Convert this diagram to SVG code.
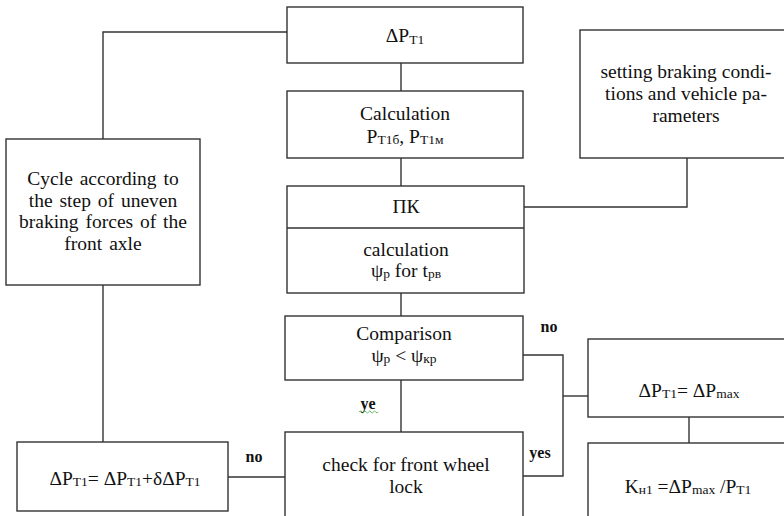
<svg xmlns="http://www.w3.org/2000/svg" width="784" height="516" viewBox="0 0 784 516">
<style>
.box{fill:#fff;stroke:#333;stroke-width:1.4}
.ln{fill:none;stroke:#333;stroke-width:1.4}
text{font-size:19.5px;fill:#111;text-anchor:middle}
.s{font-size:13.5px}
.b{font-weight:bold;font-size:16px}
.w{word-spacing:2px}
</style>
<rect width="784" height="516" fill="#fff"/>
<g id="connectors">
<path class="ln" d="M401 63V91"/>
<path class="ln" d="M401 158V186"/>
<path class="ln" d="M401 293V316"/>
<path class="ln" d="M401 380V432"/>
<path class="ln" d="M687 158V207H524"/>
<path class="ln" d="M287 32H103V139"/>
<path class="ln" d="M103 285V442"/>
<path class="ln" d="M228 477H285"/>
<path class="ln" d="M523 355H563V476H523"/>
<path class="ln" d="M563 396H588"/>
<path class="ln" d="M689 417V443"/>
</g>
<g font-family="Liberation Serif, Times New Roman, DejaVu Serif, serif">
<g id="n-dpt1">
<rect class="box" x="287" y="7" width="236" height="56"/>
<text x="405" y="42">ΔP<tspan class="s" dy="2">T1</tspan></text>
</g>
<g id="n-calc">
<rect class="box" x="287" y="91" width="236" height="67"/>
<text x="405" y="120">Calculation</text>
<text x="405" y="143">P<tspan class="s" dy="1">T1б</tspan><tspan dy="-1">, P</tspan><tspan class="s" dy="1">T1м</tspan></text>
</g>
<g id="n-pk">
<rect class="box" x="287" y="186" width="237" height="107"/>
<path class="ln" d="M287 228H524"/>
<text x="406" y="213">ПК</text>
<text x="406" y="256">calculation</text>
<text x="406" y="277">ψ<tspan class="s" dy="1">р</tspan><tspan dy="-1"> for  t</tspan><tspan class="s" dy="1">рв</tspan></text>
</g>
<g id="n-setting">
<rect class="box" x="580" y="30" width="220" height="128"/>
<text x="686" y="78">setting braking condi-</text>
<text x="686" y="100">tions and vehicle pa-</text>
<text x="686" y="122">rameters</text>
</g>
<g id="n-cycle">
<rect class="box" x="6" y="139" width="194" height="146"/>
<text class="w" x="103" y="185">Cycle according to</text>
<text class="w" x="103" y="207">the step of uneven</text>
<text class="w" x="103" y="228">braking forces of the</text>
<text class="w" x="103" y="250">front axle</text>
</g>
<g id="n-comp">
<rect class="box" x="285" y="316" width="238" height="64"/>
<text x="404" y="340">Comparison</text>
<text x="404" y="362">ψ<tspan class="s" dy="1">р</tspan><tspan dy="-1"> &lt; ψ</tspan><tspan class="s" dy="1">кр</tspan></text>
</g>
<g id="n-check">
<rect class="box" x="285" y="432" width="238" height="100"/>
<text x="406" y="471">check for front wheel</text>
<text x="406" y="493">lock</text>
</g>
<g id="n-inc">
<rect class="box" x="17" y="442" width="211" height="69"/>
<text x="125" y="485">ΔP<tspan class="s" dy="1">T1</tspan><tspan dy="-1">= ΔP</tspan><tspan class="s" dy="1">T1</tspan><tspan dy="-1">+δΔP</tspan><tspan class="s" dy="1">T1</tspan></text>
</g>
<g id="n-max">
<rect class="box" x="588" y="339" width="210" height="78"/>
<text x="689" y="397">ΔP<tspan class="s" dy="1">T1</tspan><tspan dy="-1">= ΔP</tspan><tspan class="s" dy="1">max</tspan></text>
</g>
<g id="n-k">
<rect class="box" x="588" y="443" width="210" height="90"/>
<text x="688" y="493">K<tspan class="s" dy="1">н1</tspan><tspan dy="-1"> =ΔP</tspan><tspan class="s" dy="1">max</tspan><tspan dy="-1"> /P</tspan><tspan class="s" dy="1">T1</tspan></text>
</g>
<g id="labels">
<text class="b" x="549" y="332">no</text>
<text class="b" x="254" y="462">no</text>
<text class="b" x="368" y="409">ye</text>
<path d="M359 412q1.2-2 2.4 0t2.4 0t2.4 0t2.4 0t2.4 0t2.4 0t2.4 0t2.4 0" fill="none" stroke="#4a4" stroke-width="0.8"/>
<text class="b" x="540" y="458">yes</text>
</g>
</g>
</svg>
